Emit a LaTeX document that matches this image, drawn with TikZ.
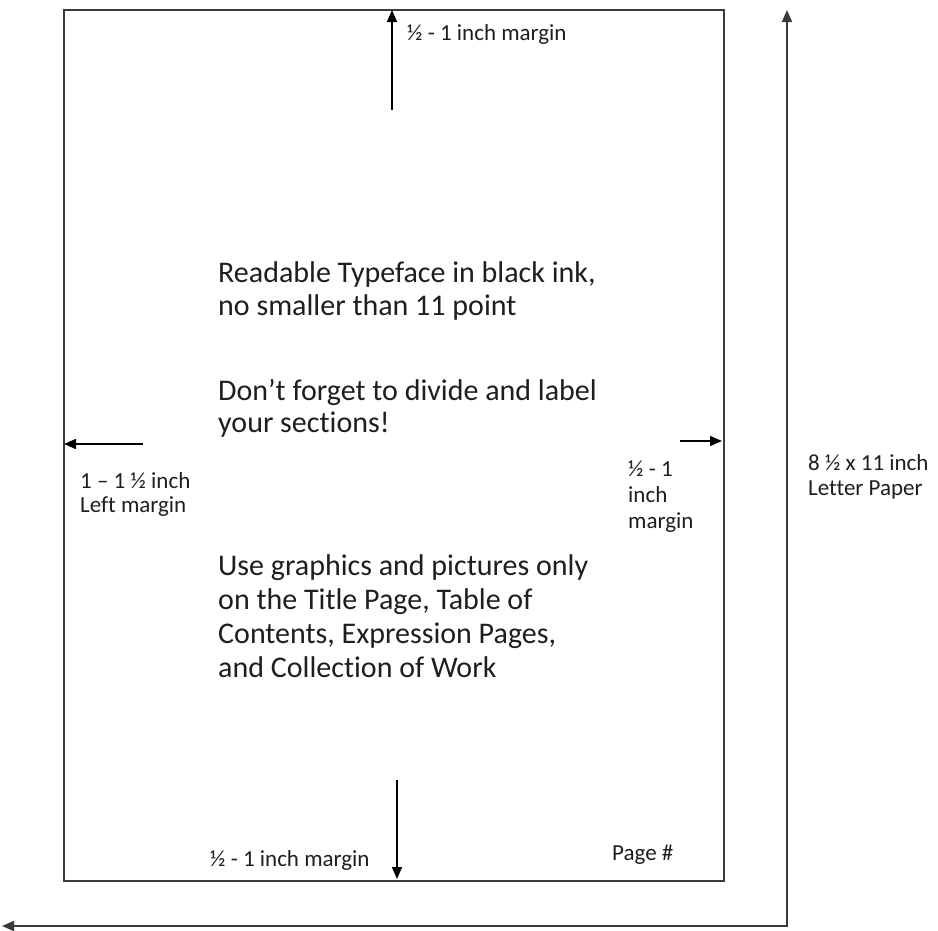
\documentclass[tikz,border=0pt]{standalone}
\usepackage{fontspec}
\setmainfont[Ligatures=CommonOff]{Carlito}
\usetikzlibrary{arrows.meta}
\definecolor{ink}{HTML}{1E1E1E}
\definecolor{rule}{HTML}{3A3A3A}
\tikzset{
  big/.style={anchor=base west,inner sep=0pt,text=ink,font=\fontsize{30}{34}\selectfont},
  small/.style={anchor=base west,inner sep=0pt,text=ink,font=\fontsize{23}{27}\selectfont},
  pagebox/.style={draw=rule,line width=2pt},
  marrow/.style={draw=black,line width=1.4pt,-{Triangle[length=12pt,width=10pt]}},
  outer/.style={draw=rule,line width=1.8pt,{Triangle[length=12pt,width=10pt]}-{Triangle[length=12pt,width=10pt]}}
}
\begin{document}
\begin{tikzpicture}[x=1pt,y=-1pt]
\useasboundingbox (0,0) rectangle (938,930);
% page
\node[pagebox,minimum width=660pt,minimum height=871pt,inner sep=0pt,anchor=north west] (page) at (63,9) {};
% outer arrows
\coordinate (oL) at (2,926);
\coordinate (oC) at (787,926);
\coordinate (oT) at (787,10);
\draw[outer] (oL) -- (oC) -- (oT);
% margin arrows
\coordinate (tS) at (392,110);
\coordinate (tE) at (392,10);
\draw[marrow] (tS) -- (tE);
\coordinate (lS) at (143,444);
\coordinate (lE) at (64,444);
\draw[marrow] (lS) -- (lE);
\coordinate (rS) at (680,441);
\coordinate (rE) at (722,441);
\draw[marrow] (rS) -- (rE);
\coordinate (bS) at (397,780);
\coordinate (bE) at (397,879);
\draw[marrow] (bS) -- (bE);
% labels
\node[small] (top) at (407,40) {½ - 1 inch margin};
\node[small] (left1) at (80,488) {1 – 1 ½ inch};
\node[small] (left2) at (80,512) {Left margin};
\node[small] (right1) at (628,476) {½ - 1};
\node[small] (right2) at (628,502) {inch};
\node[small] (right3) at (628,528) {margin};
\node[small] (paper1) at (808,470) {8 ½ x 11 inch};
\node[small] (paper2) at (808,495) {Letter Paper};
\node[small] (bottom) at (210,866) {½ - 1 inch margin};
\node[small] (pagenum) at (612,860) {Page \#};
% body text
\node[big] (t1) at (218,282) {Readable Typeface in black ink,};
\node[big] (t2) at (218,315) {no smaller than 11 point};
\node[big] (t3) at (218,400) {Don’t forget to divide and label};
\node[big] (t4) at (218,432) {your sections!};
\node[big] (t5) at (218,575) {Use graphics and pictures only};
\node[big] (t6) at (218,609) {on the Title Page, Table of};
\node[big] (t7) at (218,643) {Contents, Expression Pages,};
\node[big] (t8) at (218,677) {and Collection of Work};
\end{tikzpicture}
\end{document}
